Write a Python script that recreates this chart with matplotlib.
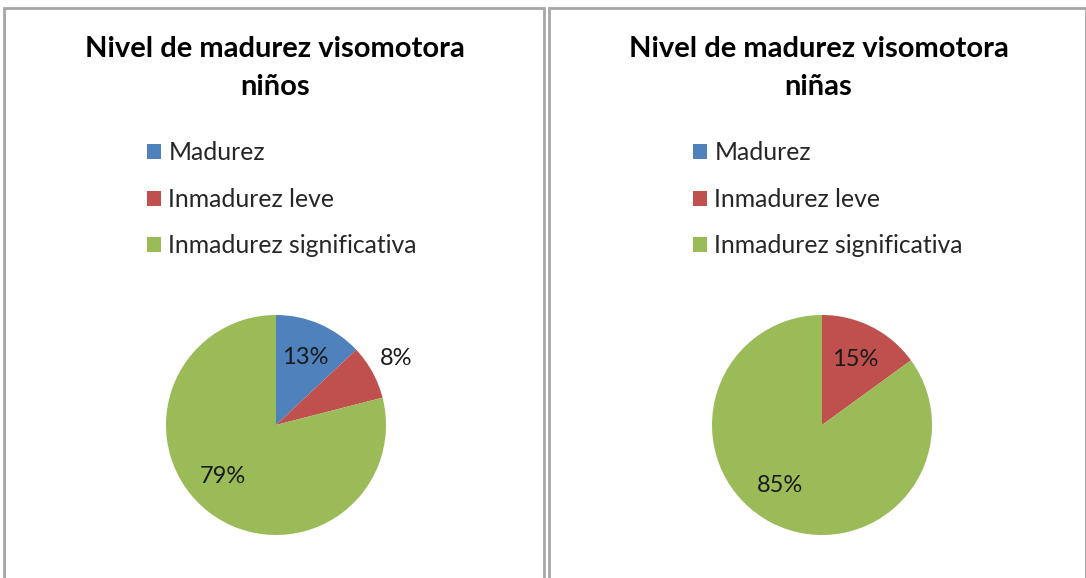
import matplotlib.pyplot as plt
from matplotlib.patches import Rectangle
import numpy as np

plt.rcParams['font.family'] = ['Lato', 'DejaVu Sans']

categories = ['Madurez', 'Inmadurez leve', 'Inmadurez significativa']
ninos = [13, 8, 79]
ninas = [0, 15, 85]
titles = ['Nivel de madurez visomotora\nniños', 'Nivel de madurez visomotora\nniñas']
colors = ['#4F81BD', '#C0504D', '#9BBB59']

W, H = 1086, 578
fig = plt.figure(figsize=(W / 100, H / 100), dpi=100)

# panel frames (px: left, top, right)
panels = [(4, 8, 544), (549, 8, 1086)]
for x0, y0, x1 in panels:
    fig.patches.append(Rectangle((x0 / W, -0.01), (x1 - x0) / W, (H - y0) / H + 0.01,
                                 transform=fig.transFigure, fill=False,
                                 edgecolor='#A6A6A6', lw=2))

centers = [(276, 425), (822, 425)]
r = 110
for i, (vals, title) in enumerate(zip([ninos, ninas], titles)):
    cx, cy = centers[i]
    ax = fig.add_axes([(cx - r) / W, (H - cy - r) / H, 2 * r / W, 2 * r / H])
    wedges, _ = ax.pie(vals, colors=colors, startangle=90, counterclock=False,
                       radius=1, wedgeprops=dict(linewidth=0))
    ax.set_xlim(-1, 1)
    ax.set_ylim(-1, 1)
    ax.set_aspect('equal')
    for w, v in zip(wedges, vals):
        if v == 0:
            continue
        ang = np.deg2rad((w.theta1 + w.theta2) / 2)
        if v > 50:
            ang -= np.deg2rad(8)
        d = 1.25 if v < 10 else 0.67
        ax.text(d * np.cos(ang), d * np.sin(ang), f'{v}%', ha='center', va='center',
                fontsize=17, color='#1a1a1a')
    mid = (panels[i][0] + panels[i][2]) / 2
    fig.text((mid + 1) / W, 1 - 68 / H, title, ha='center', va='center',
             fontsize=21, fontweight='bold', linespacing=1.6)
    fig.legend(wedges, categories, loc='upper left',
               bbox_to_anchor=((cx - 141) / W, 1 - 129 / H),
               frameon=False, fontsize=17.8, handlelength=0.55, handleheight=0.55,
               handletextpad=0.3, labelspacing=0.95, borderpad=0, labelcolor='#262626')

fig.savefig('out.png', dpi=100)
